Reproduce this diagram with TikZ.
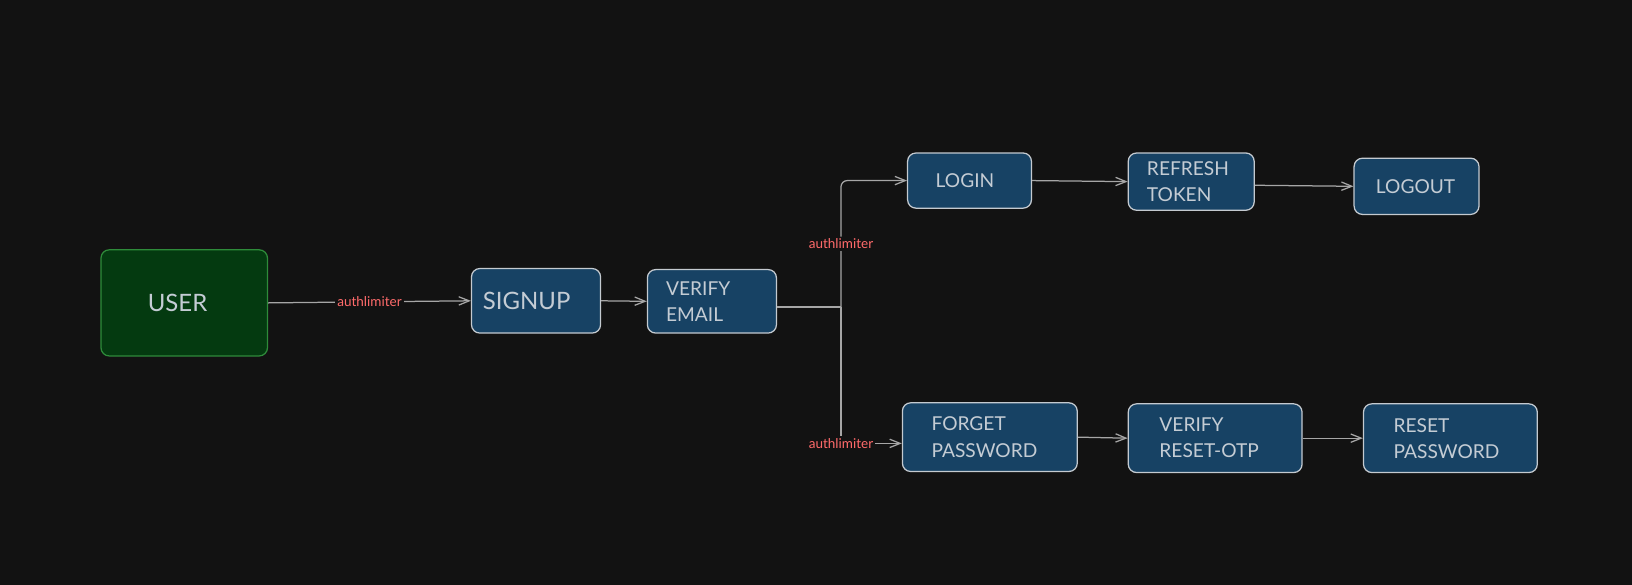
\documentclass[tikz,border=0pt]{standalone}
\usepackage{fontspec}
\setmainfont{Lato}
\usetikzlibrary{arrows.meta}
\definecolor{bg}{HTML}{121212}
\definecolor{boxblue}{HTML}{174264}
\definecolor{edge}{HTML}{C4CAD0}
\definecolor{boxtext}{HTML}{C4CCD4}
\definecolor{usergreen}{HTML}{043A10}
\definecolor{useredge}{HTML}{2E8B3A}
\definecolor{wire}{HTML}{A6A6A6}
\definecolor{lblred}{HTML}{FF6B6B}

\begin{document}
\begin{tikzpicture}[x=0.5pt,y=-0.5pt,
  box/.style={draw=edge, fill=boxblue, line width=0.6pt, rounded corners=4pt, text=boxtext,
    align=left, inner ysep=0pt, font=\fontsize{9.2}{12.5}\selectfont},
  conn/.style={draw=wire, line width=0.6pt, -{Straight Barb[length=5pt,width=4pt]}},
  lbl/.style={fill=bg, text=lblred, font=\fontsize{6.5}{8}\selectfont, inner sep=1pt}]
  \useasboundingbox[fill=bg] (0,0) rectangle (1568,562);

  % start
  \node[box, draw=useredge, fill=usergreen, font=\fontsize{11.5}{14}\selectfont,
    minimum width=80pt, minimum height=51pt, inner xsep=22.5pt, text width=35pt] (user) at (177,291) {USER};
  \node[box, font=\fontsize{11.5}{14}\selectfont,
    minimum width=62pt, minimum height=31pt, inner xsep=5.5pt, text width=51pt] (signup) at (515,289) {SIGNUP};
  \node[box, minimum width=62pt, minimum height=30.5pt, inner xsep=9pt, text width=44pt] (verify) at (684,289.5) {VERIFY\\EMAIL};

  % login branch
  \node[box, minimum width=59.5pt, minimum height=26.5pt, inner xsep=13.5pt, text width=32.5pt] (login) at (931.5,173.5) {LOGIN};
  \node[box, minimum width=60.5pt, minimum height=27.5pt, inner xsep=9pt, text width=42.5pt] (refresh) at (1144.5,174.5) {REFRESH\\TOKEN};
  \node[box, minimum width=60pt, minimum height=27pt, inner xsep=10.5pt, text width=39pt] (logout) at (1361,179) {LOGOUT};

  % password branch
  \node[box, minimum width=84pt, minimum height=33pt, inner xsep=14pt, text width=56pt] (forget) at (951,420) {FORGET\\PASSWORD};
  \node[box, minimum width=83.5pt, minimum height=33pt, inner xsep=15pt, text width=53.5pt] (vreset) at (1167.5,421) {VERIFY\\RESET-OTP};
  \node[box, minimum width=83.5pt, minimum height=33pt, inner xsep=14.5pt, text width=54.5pt] (reset) at (1393.5,421) {RESET\\PASSWORD};

  \coordinate (jn) at (808,295);

  \draw[conn] (user.east) -- node[lbl]{authlimiter} (signup.west);
  \draw[conn] (signup.east) -- (verify.west);
  \draw[draw=wire, line width=0.6pt] (verify.east |- jn) -- (jn);
  \draw[conn, rounded corners=3pt] (jn) |- node[lbl, pos=0.25]{authlimiter} (login.west);
  \draw[conn] (jn) |- node[lbl, pos=0.5]{authlimiter} ([yshift=-3pt]forget.west);
  \draw[conn] (login.east) -- (refresh.west);
  \draw[conn] ([yshift=-1.75pt]refresh.east) -- (logout.west);
  \draw[conn] (forget.east) -- (vreset.west);
  \draw[conn] (vreset.east) -- (reset.west);
\end{tikzpicture}
\end{document}
